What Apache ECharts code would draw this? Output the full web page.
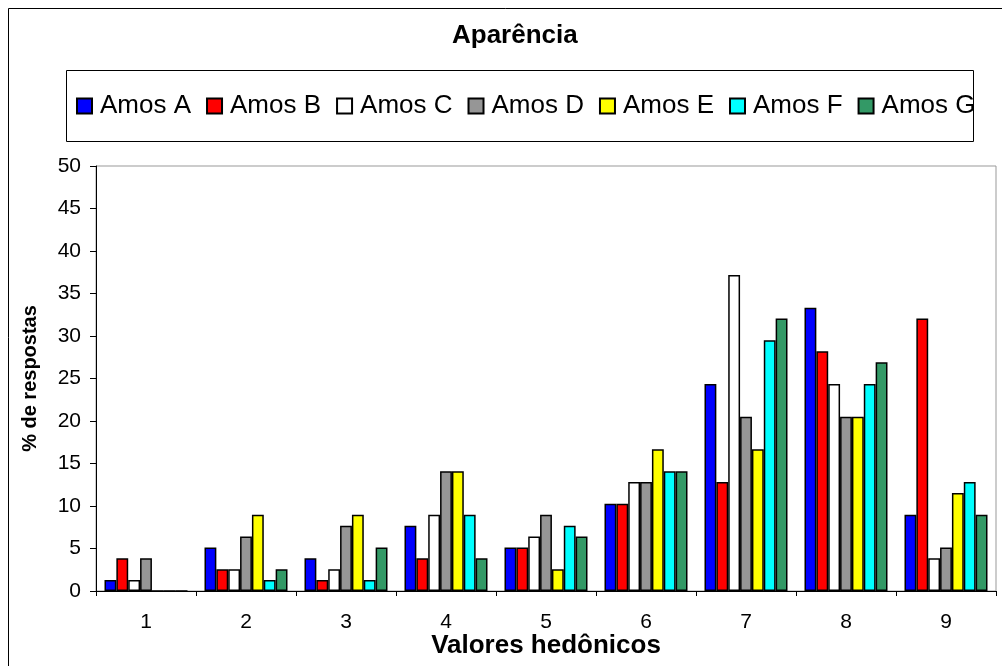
<!DOCTYPE html>
<html>
<head>
<meta charset="utf-8">
<script src="https://cdn.jsdelivr.net/npm/echarts@6/dist/echarts.min.js"></script>
<style>html,body{margin:0;padding:0;background:#fff}#c{width:1002px;height:666px}</style>
</head>
<body>
<div id="c"></div>
<script>
const categories = ['1','2','3','4','5','6','7','8','9'];
const seriesNames = ['Amos A','Amos B','Amos C','Amos D','Amos E','Amos F','Amos G'];
const amosA = [1.28, 5.13, 3.85, 7.69, 5.13, 10.26, 24.36, 33.33, 8.97];
const amosB = [3.85, 2.56, 1.28, 3.85, 5.13, 10.26, 12.82, 28.21, 32.05];
const amosC = [1.28, 2.56, 2.56, 8.97, 6.41, 12.82, 37.18, 24.36, 3.85];
const amosD = [3.85, 6.41, 7.69, 14.10, 8.97, 12.82, 20.51, 20.51, 5.13];
const amosE = [0, 8.97, 8.97, 14.10, 2.56, 16.67, 16.67, 20.51, 11.54];
const amosF = [0, 1.28, 1.28, 8.97, 7.69, 14.10, 29.49, 24.36, 12.82];
const amosG = [0, 2.56, 5.13, 3.85, 6.41, 14.10, 32.05, 26.92, 8.97];
const colors = ['#0000FF','#FF0000','#FFFFFF','#969696','#FFFF00','#00FFFF','#339966'];
const allData = [amosA, amosB, amosC, amosD, amosE, amosF, amosG];

const FONT = "'Liberation Sans', Arial, sans-serif";
const chart = echarts.init(document.getElementById('c'), null, {renderer: 'canvas'});
chart.setOption({
  animation: false,
  backgroundColor: '#fff',
  title: {
    text: 'Aparência',
    left: 452, top: 23,
    padding: 0,
    textStyle: {fontFamily: FONT, fontSize: 26, fontWeight: 'bold', color: '#000'}
  },
  graphic: [
    {type: 'rect', shape: {x: 8.5, y: 8.5, width: 1100, height: 800}, style: {fill: 'none', stroke: '#000', lineWidth: 1}, z: -10},
    {type: 'rect', shape: {x: 66.5, y: 70.5, width: 907, height: 71}, style: {fill: '#fff', stroke: '#000', lineWidth: 1}, z: -5}
  ],
  legend: {
    left: 76, top: 93,
    padding: 0,
    itemGap: 15,
    itemWidth: 15, itemHeight: 15,
    icon: 'rect',
    textStyle: {fontFamily: FONT, fontSize: 26, color: '#000', padding: [0, 0, 0, 3]},
    data: seriesNames
  },
  grid: {
    left: 96, top: 166, width: 900, height: 425,
    outerBoundsMode: 'none',
    containLabel: false,
    show: true, borderColor: '#999', borderWidth: 1, backgroundColor: 'transparent'
  },
  xAxis: {
    type: 'category',
    data: categories,
    boundaryGap: true,
    name: 'Valores hedônicos',
    nameLocation: 'middle',
    nameGap: 42,
    nameMoveOverlap: false,
    nameTextStyle: {fontFamily: FONT, fontSize: 26, fontWeight: 'bold', color: '#000'},
    axisLine: {lineStyle: {color: '#000', width: 1}},
    axisTick: {show: true, alignWithLabel: false, length: 5, lineStyle: {color: '#000'}},
    axisLabel: {fontFamily: FONT, fontSize: 21, color: '#000', margin: 21},
    splitLine: {show: false}
  },
  yAxis: {
    type: 'value',
    min: 0, max: 50, interval: 5,
    name: '% de respostas',
    nameLocation: 'middle',
    nameGap: 56,
    nameMoveOverlap: false,
    nameTextStyle: {fontFamily: FONT, fontSize: 20, fontWeight: 'bold', color: '#000'},
    axisLine: {show: true, lineStyle: {color: '#000', width: 1}},
    axisTick: {show: true, length: 6, lineStyle: {color: '#000'}},
    axisLabel: {fontFamily: FONT, fontSize: 21, color: '#000', margin: 15},
    splitLine: {show: false}
  },
  series: seriesNames.map((n, i) => ({
    name: n,
    type: 'bar',
    data: allData[i],
    barGap: '0%',
    barCategoryGap: '17%',
    itemStyle: {color: colors[i], borderColor: '#000', borderWidth: 1.5},
    emphasis: {disabled: true}
  }))
});
</script>
</body>
</html>
